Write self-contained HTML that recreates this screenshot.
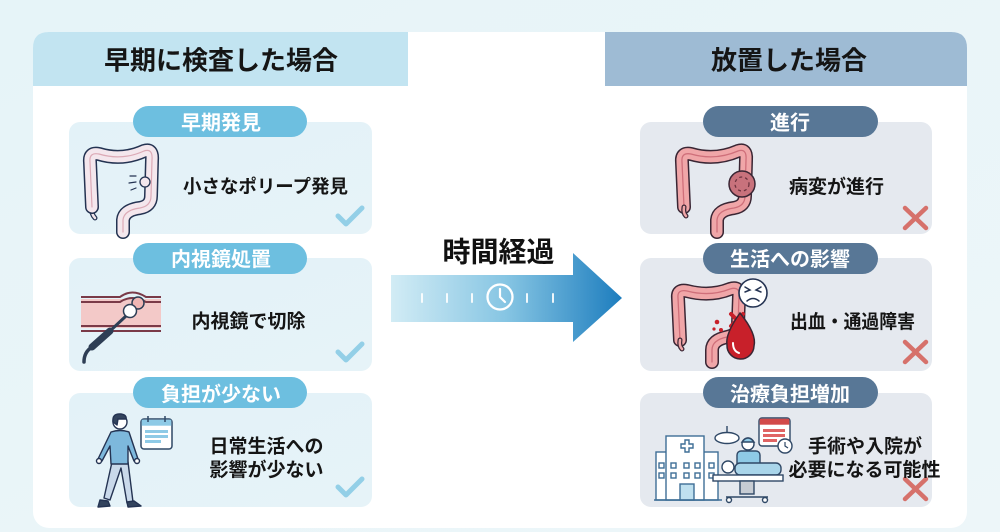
<!DOCTYPE html>
<html><head><meta charset="utf-8"><style>
html,body{margin:0;padding:0;width:1000px;height:532px;overflow:hidden;background:#eaf5f8;}
svg{display:block}
text{font-family:"Liberation Sans","Noto Sans CJK JP",sans-serif;font-weight:700;}
</style></head><body>
<svg width="1000" height="532" viewBox="0 0 1000 532" xmlns="http://www.w3.org/2000/svg">
<defs>
<linearGradient id="bg" x1="0" y1="0" x2="1" y2="1"><stop offset="0" stop-color="#e6f4f8"/><stop offset="1" stop-color="#edf6f9"/></linearGradient>
<linearGradient id="arr" x1="391" y1="0" x2="622" y2="0" gradientUnits="userSpaceOnUse">
<stop offset="0" stop-color="#d2ecf5"/><stop offset="0.5" stop-color="#86c5e3"/><stop offset="1" stop-color="#1d7dbe"/></linearGradient>
<linearGradient id="lc" x1="0" y1="0" x2="1" y2="1"><stop offset="0" stop-color="#e3f2f8"/><stop offset="1" stop-color="#e6f3f8"/></linearGradient>
</defs>
<rect width="1000" height="532" fill="url(#bg)"/>
<rect x="33" y="32" width="934" height="496" rx="16" fill="#ffffff"/>
<path d="M33 86 L33 48 Q33 32 49 32 L408 32 L408 86 Z" fill="#c2e4f1"/>
<path d="M605 86 L605 32 L951 32 Q967 32 967 48 L967 86 Z" fill="#9ebbd4"/>
<text x="221" y="69.5" font-size="26" text-anchor="middle" fill="#151515">早期に検査した場合</text>
<text x="789" y="69.5" font-size="26" text-anchor="middle" fill="#151515">放置した場合</text>

<rect x="69" y="122" width="303" height="112" rx="11" fill="url(#lc)"/>
<rect x="69" y="258" width="303" height="113" rx="11" fill="url(#lc)"/>
<rect x="69" y="393" width="303" height="114" rx="11" fill="url(#lc)"/>
<rect x="133" y="106" width="174" height="31" rx="15.5" fill="#6dbfe0"/>
<rect x="133" y="243" width="174" height="31" rx="15.5" fill="#6dbfe0"/>
<rect x="133" y="377" width="174" height="31" rx="15.5" fill="#6dbfe0"/>
<text x="221" y="129.5" font-size="20" text-anchor="middle" fill="#ffffff">早期発見</text>
<text x="221" y="266" font-size="20" text-anchor="middle" fill="#ffffff">内視鏡処置</text>
<text x="221" y="401" font-size="20" text-anchor="middle" fill="#ffffff">負担が少ない</text>
<text x="183" y="193" font-size="18.5" textLength="165" lengthAdjust="spacingAndGlyphs" fill="#151515">小さなポリープ発見</text>
<text x="248.5" y="327.5" font-size="19" text-anchor="middle" fill="#151515">内視鏡で切除</text>
<text x="266.5" y="452.5" font-size="19" text-anchor="middle" fill="#151515">日常生活への</text>
<text x="266.5" y="476" font-size="19" text-anchor="middle" fill="#151515">影響が少ない</text>
<g fill="none" stroke="#93cfe7" stroke-width="5" stroke-linecap="round" stroke-linejoin="round">
<polyline points="338,216 346,224 362,208"/>
<polyline points="338,352 346,360 362,344"/>
<polyline points="338,487 346,495 362,479"/>
</g>

<rect x="640" y="122" width="292" height="112" rx="11" fill="#e5e9ef"/>
<rect x="640" y="258" width="292" height="113" rx="11" fill="#e5e9ef"/>
<rect x="640" y="393" width="292" height="114" rx="11" fill="#e5e9ef"/>
<rect x="703" y="106" width="175" height="31" rx="15.5" fill="#587796"/>
<rect x="703" y="243" width="175" height="31" rx="15.5" fill="#587796"/>
<rect x="703" y="377" width="175" height="31" rx="15.5" fill="#587796"/>
<text x="790" y="129.5" font-size="20" text-anchor="middle" fill="#ffffff">進行</text>
<text x="790" y="266" font-size="20" text-anchor="middle" fill="#ffffff">生活への影響</text>
<text x="790" y="401" font-size="20" text-anchor="middle" fill="#ffffff">治療負担増加</text>
<text x="836.5" y="193" font-size="19" text-anchor="middle" fill="#151515">病変が進行</text>
<text x="790" y="328" font-size="19" textLength="125" lengthAdjust="spacingAndGlyphs" fill="#151515">出血・通過障害</text>
<g fill="none" stroke="#d6716b" stroke-width="4.5" stroke-linecap="round">
<path d="M905 208 L926 228 M926 208 L905 228"/>
<path d="M905 342 L926 362 M926 342 L905 362"/>
<path d="M905 479 L926 499 M926 479 L905 499"/>
</g>

<polygon points="391,275 573,275 573,253 622,298 573,342 573,322 391,322" fill="url(#arr)"/>
<g stroke="#ffffff" stroke-width="2" stroke-linecap="round" opacity="0.9">
<line x1="422" y1="294" x2="422" y2="302"/><line x1="447" y1="294" x2="447" y2="302"/><line x1="472" y1="294" x2="472" y2="302"/>
<line x1="527" y1="294" x2="527" y2="302"/><line x1="553" y1="294" x2="553" y2="302"/>
</g>
<circle cx="500" cy="297" r="12.5" fill="none" stroke="#ffffff" stroke-width="2.3"/>
<path d="M500 289 L500 297 L505 302" fill="none" stroke="#ffffff" stroke-width="2.2" stroke-linecap="round"/>
<text x="498.5" y="261.5" font-size="28" text-anchor="middle" fill="#111111">時間経過</text>

<g fill="none" stroke-linecap="round" stroke-linejoin="round">
<path d="M92 207 Q91 214 95 218" stroke="#243352" stroke-width="5"/>
<path d="M92 207 Q91 214 95 218" stroke="#f3e6ec" stroke-width="2.5"/>
<path d="M92 207 L90 162 Q89 152 99 154 Q122 161 144 151 Q153 148 152 160 L151 196 Q151 206 140 208 Q124 210 123 220 L123 232" stroke="#243352" stroke-width="14"/>
<path d="M92 207 L90 162 Q89 152 99 154 Q122 161 144 151 Q153 148 152 160 L151 196 Q151 206 140 208 Q124 210 123 220 L123 232" stroke="#f4e7ed" stroke-width="11"/>
<path d="M92 207 L90 162 Q89 152 99 154 Q122 161 144 151 Q153 148 152 160 L151 196 Q151 206 140 208 Q124 210 123 220 L123 232" stroke="#dcaab6" stroke-width="1.2"/>
<path d="M136 176 L130 176 M136 182 L129 183 M136 188 L131 190" stroke="#243352" stroke-width="1.2"/>
</g>
<circle cx="145" cy="182" r="5" fill="#f4e7ed" stroke="#243352" stroke-width="1.3"/>

<rect x="81" y="299" width="80" height="29" fill="#f3c9c8"/>
<g fill="none" stroke="#7a3a48" stroke-width="2">
<path d="M81 297 L120 297 Q132 288 146 297 L161 297"/>
<path d="M81 302 L120 302 Q132 294 146 302 L161 302"/>
<path d="M81 326 L161 326"/><path d="M81 331 L161 331"/>
</g>
<circle cx="138" cy="303" r="6" fill="#f0b6b4" stroke="#2e3e55" stroke-width="1.5"/>
<circle cx="130" cy="311" r="6.5" fill="#ffffff" stroke="#2e3e55" stroke-width="1.5"/>
<path d="M126 316 L110 331" stroke="#2e3e55" stroke-width="3" fill="none"/>
<path d="M110 331 L92 347" stroke="#2e3e55" stroke-width="7" stroke-linecap="round" fill="none"/>
<path d="M92 347 Q84 352 84 362" stroke="#2e3e55" stroke-width="3.5" stroke-linecap="round" fill="none"/>

<g stroke="#243352" stroke-width="1.4" stroke-linejoin="round">
<path d="M112 462 L104 498 L110 500 L121 468 L127 503 L133 502 L128 462 Z" fill="#c9d9ea"/>
<path d="M100 500 L108 501 L110 506 L98 507 Z" fill="#33445e"/>
<path d="M127 502 L134 501 L141 506 L128 507 Z" fill="#33445e"/>
<path d="M111 432 Q120 429 129 432 L138 459 L134 461 L128 446 L128 464 L111 464 L110 446 L102 461 L98 459 Z" fill="#7db8dc"/>
<circle cx="120" cy="422" r="7" fill="#ffffff"/>
<path d="M113 422 Q112 413 121 414 Q127 415 126 419 L118 419 L117 425 Z" fill="#33445e"/>
<circle cx="99" cy="461" r="2.5" fill="#ffffff"/><circle cx="137" cy="461" r="2.5" fill="#ffffff"/>
</g>
<rect x="141" y="419" width="31" height="30" rx="3" fill="#ffffff" stroke="#2f4866" stroke-width="1.5"/>
<rect x="141.7" y="419.7" width="29.6" height="6" fill="#8ecae6"/>
<g fill="#8ecae6"><rect x="145" y="430" width="23" height="3"/><rect x="145" y="435" width="23" height="3"/><rect x="145" y="440" width="16" height="3"/></g>
<g stroke="#2f4866" stroke-width="1.5"><line x1="148" y1="416" x2="148" y2="422"/><line x1="165" y1="416" x2="165" y2="422"/></g>

<g fill="none" stroke-linecap="round" stroke-linejoin="round">
<path d="M684 207 L682 162 Q681 152 691 154 Q715 161 738 151 Q747 148 746 160 L745 196 Q745 206 734 208 Q718 210 717 220 L717 232" stroke="#3a2634" stroke-width="14"/>
<path d="M684 207 L682 162 Q681 152 691 154 Q715 161 738 151 Q747 148 746 160 L745 196 Q745 206 734 208 Q718 210 717 220 L717 232" stroke="#f0a6a8" stroke-width="11"/>
<path d="M684 207 L682 162 Q681 152 691 154 Q715 161 738 151 Q747 148 746 160 L745 196 Q745 206 734 208 Q718 210 717 220 L717 232" stroke="#cf6f7a" stroke-width="1.3"/>
<path d="M684 207 Q683 213 686 216" stroke="#3a2634" stroke-width="5"/>
<path d="M684 207 Q683 213 686 216" stroke="#f0a6a8" stroke-width="2.5"/>
</g>
<circle cx="742" cy="184" r="13" fill="#c8727c" stroke="#3a2634" stroke-width="1.5"/>
<circle cx="742" cy="184" r="7" fill="none" stroke="#6e3440" stroke-width="1.3" stroke-dasharray="3 3"/>

<g fill="none" stroke-linecap="round" stroke-linejoin="round">
<path d="M680 340 L678 298 Q677 289 687 291 Q710 297 730 289 Q740 286 739 296 L738 325 Q738 335 727 337 Q712 340 712 350 L712 362" stroke="#3a2634" stroke-width="14"/>
<path d="M680 340 L678 298 Q677 289 687 291 Q710 297 730 289 Q740 286 739 296 L738 325 Q738 335 727 337 Q712 340 712 350 L712 362" stroke="#f0a6a8" stroke-width="11"/>
<path d="M680 340 L678 298 Q677 289 687 291 Q710 297 730 289 Q740 286 739 296 L738 325 Q738 335 727 337 Q712 340 712 350 L712 362" stroke="#cf6f7a" stroke-width="1.3"/>
<path d="M680 340 Q679 346 682 349" stroke="#3a2634" stroke-width="5"/>
<path d="M680 340 Q679 346 682 349" stroke="#f0a6a8" stroke-width="2.5"/>
<path d="M731 314 L743 326 M743 314 L731 326" stroke="#c8202a" stroke-width="4"/>
</g>
<circle cx="717" cy="322" r="2.3" fill="#c8202a"/><circle cx="721" cy="330" r="2" fill="#c8202a"/><circle cx="714" cy="329" r="1.6" fill="#c8202a"/>
<path d="M740 313 Q757 334 754 346 A 13.5 13.5 0 0 1 727 345 Q725 334 740 313 Z" fill="#c8202a" stroke="#3a2634" stroke-width="1.5"/>
<path d="M733 343 Q733 351 739 353" fill="none" stroke="#ffffff" stroke-width="2" stroke-linecap="round"/>
<circle cx="753" cy="293" r="14" fill="#ffffff" stroke="#243352" stroke-width="1.6"/>
<g fill="none" stroke="#243352" stroke-width="1.5" stroke-linecap="round">
<path d="M745 287 L750 290 L745 292"/><path d="M761 287 L756 290 L761 292"/><path d="M747 301 Q753 296 759 301"/>
</g>

<g stroke="#3e6e96" stroke-width="1.4" fill="#ffffff">
<rect x="656" y="452" width="62" height="48"/>
<rect x="666" y="436" width="38" height="64"/>
<rect x="680" y="484" width="14" height="16" fill="#bfe0ef"/>
<path d="M685 440 h4 v4 h4 v4 h-4 v4 h-4 v-4 h-4 v-4 h4 Z" fill="#ffffff"/>
<rect x="659" y="463" width="5" height="5"/><rect x="659" y="473" width="5" height="5"/>
<rect x="671" y="463" width="5" height="5"/><rect x="671" y="473" width="5" height="5"/>
<rect x="684" y="463" width="5" height="5"/><rect x="684" y="473" width="5" height="5"/>
<rect x="695" y="463" width="5" height="5"/><rect x="695" y="473" width="5" height="5"/>
<rect x="709" y="463" width="5" height="5"/><rect x="709" y="473" width="5" height="5"/>
</g>
<line x1="654" y1="500" x2="722" y2="500" stroke="#3e6e96" stroke-width="1.4"/>
<g stroke="#2f4866" stroke-width="1.4">
<line x1="727" y1="426" x2="727" y2="433"/>
<ellipse cx="727" cy="438" rx="12" ry="5.5" fill="#ffffff"/>
<rect x="737" y="451" width="23" height="24" rx="4" fill="#8ecae6"/>
<circle cx="748" cy="444" r="6" fill="#ffffff"/>
<path d="M742 442 Q748 434 754 442 Z" fill="#8ecae6"/>
<rect x="735" y="463" width="46" height="12" rx="5" fill="#a9d5ea"/>
<circle cx="728" cy="467" r="6" fill="#ffffff"/>
<rect x="713" y="475" width="70" height="6" fill="#ffffff"/>
<rect x="740" y="481" width="14" height="13" fill="#c7ccd3"/>
<line x1="726" y1="497" x2="768" y2="497"/>
<circle cx="729" cy="500" r="2.5" fill="#ffffff"/><circle cx="765" cy="500" r="2.5" fill="#ffffff"/>
</g>
<rect x="759" y="418" width="31" height="28" rx="3" fill="#ffffff" stroke="#2f4866" stroke-width="1.4"/>
<rect x="759.7" y="418.7" width="29.6" height="6" fill="#d24a4a"/>
<g fill="#e06464"><rect x="763" y="429" width="22" height="3"/><rect x="763" y="434" width="22" height="3"/><rect x="763" y="439" width="14" height="3"/></g>
<circle cx="785" cy="446" r="7" fill="#ffffff" stroke="#2f4866" stroke-width="1.4"/>
<path d="M785 442 L785 446 L788 448" fill="none" stroke="#2f4866" stroke-width="1.2"/>
<text x="865" y="452.5" font-size="19" text-anchor="middle" fill="#151515">手術や入院が</text>
<text x="864.5" y="476" font-size="19" text-anchor="middle" fill="#151515">必要になる可能性</text>
</svg>
</body></html>
